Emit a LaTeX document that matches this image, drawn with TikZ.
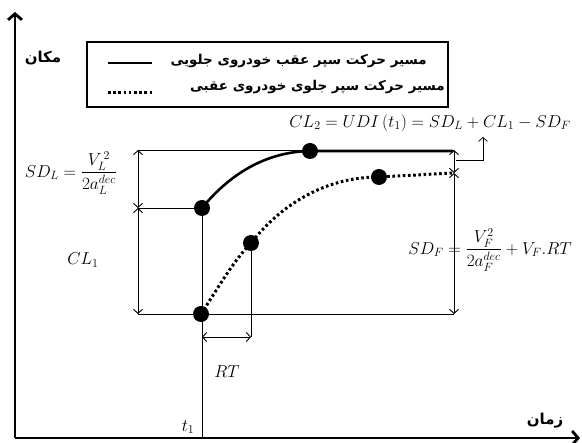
\documentclass[tikz,border=0pt]{standalone}
\usepackage{amsmath}
\usepackage{fontspec}
\usepackage{tikz}
\usetikzlibrary{arrows.meta,positioning,calc}
\newfontfamily\fafont[Script=Arabic]{DejaVu Sans}
\TeXXeTstate=1
\tikzset{
	eq/.style={font=\fontsize{18.5}{21}\selectfont},
	fa/.style={font=\fafont\bfseries\fontsize{13.5}{16}\selectfont, inner sep=1pt},
	axlabel/.style={fa, font=\fafont\bfseries\fontsize{15}{17}\selectfont},
	dim/.style={line width=0.9pt, {Straight Barb[length=4pt,width=9pt]}-{Straight Barb[length=4pt,width=9pt]}},
	guide/.style={line width=0.7pt},
	leadcar/.style={line width=2.6pt},
	followcar/.style={line width=3pt, dash pattern=on 2.6pt off 2.6pt},
	axis/.style={line width=2.8pt, -{Straight Barb[length=6pt,width=14pt]}},
	dot/.style={circle, fill, inner sep=0pt, minimum size=16pt}
}

\begin{document}
\begin{tikzpicture}[x=1pt,y=-1pt]
	\useasboundingbox (0,0) rectangle (582,443);
	\coordinate (O) at (15,438);
	\coordinate (ytop) at (15,12);
	\coordinate (xend) at (580,438);
	\draw[axis] (O) -- (ytop);
	\draw[axis] (O) -- (xend);
	\node[axlabel] (ylab) at (43,58) {\beginR مکان\endR};
	\node[axlabel] (xlab) at (545,421) {\beginR زمان\endR};

	\node[draw, line width=1.8pt, minimum width=361pt, minimum height=65pt, inner sep=0pt] (legend) at (267.5,74.5) {};
	\node[fa, anchor=east] (leadtxt) at (428,61) {\beginR مسیر حرکت سپر عقب خودروی جلویی\endR};
	\node[fa, anchor=east] (followtxt) at (446,87) {\beginR مسیر حرکت سپر جلوی خودروی عقبی\endR};
	\coordinate (s1) at (108,63);
	\coordinate (s2) at (108,93);
	\draw[leadcar] (s1) -- ++(44,0);
	\draw[followcar] (s2) -- ++(45,0);

	\coordinate (L1) at (202,208);
	\coordinate (L2) at (310,151);
	\coordinate (L3) at (453,151);
	\coordinate (F1) at (201,314);
	\coordinate (F2) at (251,243);
	\coordinate (F3) at (379,177);
	\coordinate (F4) at (453,173);
	\coordinate (A) at (138,150);
	\coordinate (B) at (138,208);
	\coordinate (C) at (138,314);
	\coordinate (R1) at (454,150);
	\coordinate (R2) at (454,173);
	\coordinate (R3) at (454,314);
	\coordinate (rta) at (202,337);
	\coordinate (c1) at (456,160);
	\coordinate (c2) at (483,160);
	\coordinate (c3) at (483,137);

	\draw[guide] (A) -- (R1);
	\draw[guide] (B) -- (L1) -- (L1 |- O);
	\draw[guide] (C) -- (R3);
	\draw[guide] (F2) -- (F2 |- rta);
	\draw[dim] (A) -- (B);
	\draw[dim] (B) -- (C);
	\draw[dim] (R1) -- (R2);
	\draw[dim] (R2) -- (R3);
	\draw[dim] (rta) -- (F2 |- rta);
	\draw[guide, -{Straight Barb[length=4pt,width=9pt]}] (c1) -- (c2) -- (c3);

	\draw[leadcar] (L1) .. controls (225,180) and (260,152) .. (L2) -- (L3);
	\draw[followcar] (F1) .. controls (220,285) and (232,263) .. (F2) .. controls (285,200) and (330,177) .. (F3) -- (F4);
	\foreach \p in {L1,L2,F1,F2,F3}
		\node[dot] (d\p) at (\p) {};

	\node[eq] (cl2) at (430,123) {$CL_2=UDI\,(t_1)=SD_L+CL_1-SD_F$};
	\node[eq] (sdl) at (71,173) {$SD_L=\dfrac{V_L^{\,2}}{2a_L^{dec}}$};
	\node[eq] (cl1) at (83,260) {$CL_1$};
	\node[eq] (sdf) at (490,250) {$SD_F=\dfrac{V_F^2}{2a_F^{dec}}+V_F.RT$};
	\node[eq] (rt) at (227,372) {$RT$};
	\node[eq] (t1) at (188,427) {$t_1$};
\end{tikzpicture}
\end{document}
